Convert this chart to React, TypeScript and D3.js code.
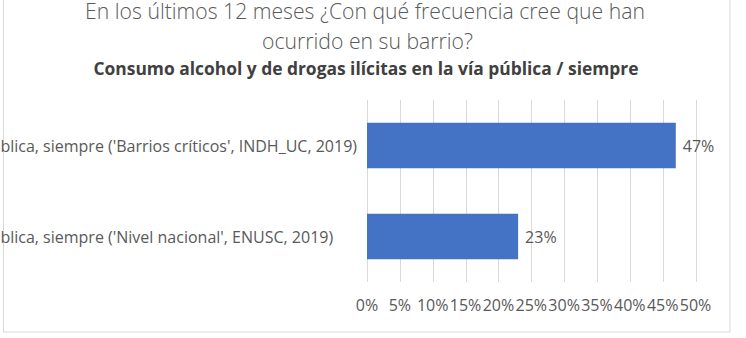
import React, { useMemo } from "react";
import * as d3 from "d3";

const categories = [
  "Consumo alcohol y de drogas ilícitas en la vía pública, siempre ('Barrios críticos', INDH_UC, 2019)",
  "Consumo alcohol y de drogas ilícitas en la vía pública, siempre ('Nivel nacional', ENUSC, 2019)",
];
const values = [0.47, 0.23];
const tickValues = [0, 0.05, 0.1, 0.15, 0.2, 0.25, 0.3, 0.35, 0.4, 0.45, 0.5];
const titleLines = [
  "En los últimos 12 meses ¿Con qué frecuencia cree que han",
  "ocurrido en su barrio?",
];
const subtitle = "Consumo alcohol y de drogas ilícitas en la vía pública / siempre";

const W = 746;
const H = 338;
const FONT = "'Open Sans', 'Noto Sans', sans-serif";
const LABEL_SIZE = 16;

export default function App() {
  const x = d3.scaleLinear().domain([0, 0.5]).range([367, 695.5]);
  const y = d3
    .scaleBand<string>()
    .domain(categories)
    .range([100, 282])
    .paddingInner(0.5)
    .paddingOuter(0.25);
  const fmt = d3.format(".0%");

  // labels share a common left start; the longest one ends 10px left of the axis
  const labelStart = useMemo(() => {
    const ctx = document.createElement("canvas").getContext("2d");
    let maxW = 0;
    if (ctx) {
      ctx.font = `${LABEL_SIZE}px 'Open Sans'`;
      categories.forEach((c) => {
        maxW = Math.max(maxW, ctx.measureText(c).width);
      });
    }
    return x(0) - 10 - maxW;
  }, []);

  return (
    <>
      <style>{`body{margin:0}`}</style>
      <svg width={W} height={H} style={{ display: "block", background: "#fff" }}>
        <rect x={3.5} y={-5} width={726.5} height={337} fill="none" stroke="#d9d9d9" strokeWidth={1} />
        <g fontFamily={FONT} textAnchor="middle" fill="#595959">
          <text x={365} y={19} fontSize={21.2} fontWeight={300}>{titleLines[0]}</text>
          <text x={367.5} y={49} fontSize={21.2} fontWeight={300}>{titleLines[1]}</text>
          <text x={366} y={75} fontSize={17.4} fontWeight="bold" fill="#404040">{subtitle}</text>
        </g>
        <g stroke="#d9d9d9" strokeWidth={1}>
          {tickValues.map((t) => (
            <line key={t} x1={Math.round(x(t)) + 0.5} x2={Math.round(x(t)) + 0.5} y1={100} y2={282} />
          ))}
        </g>
        <g>
          {categories.map((c, i) => (
            <rect key={c} x={x(0)} y={y(c)} width={x(values[i]) - x(0)} height={y.bandwidth()} fill="#4472C4" />
          ))}
        </g>
        <g fontFamily={FONT} fontSize={LABEL_SIZE} fill="#595959">
          {categories.map((c, i) => (
            <text key={c} x={x(values[i]) + 7} y={(y(c) ?? 0) + y.bandwidth() / 2} dominantBaseline="central">
              {fmt(values[i])}
            </text>
          ))}
          {categories.map((c) => (
            <text key={c + "l"} x={labelStart} y={(y(c) ?? 0) + y.bandwidth() / 2} textAnchor="start" dominantBaseline="central">
              {c}
            </text>
          ))}
          {tickValues.map((t) => (
            <text key={t} x={x(t)} y={305} textAnchor="middle" dominantBaseline="central">
              {fmt(t)}
            </text>
          ))}
        </g>
      </svg>
    </>
  );
}
